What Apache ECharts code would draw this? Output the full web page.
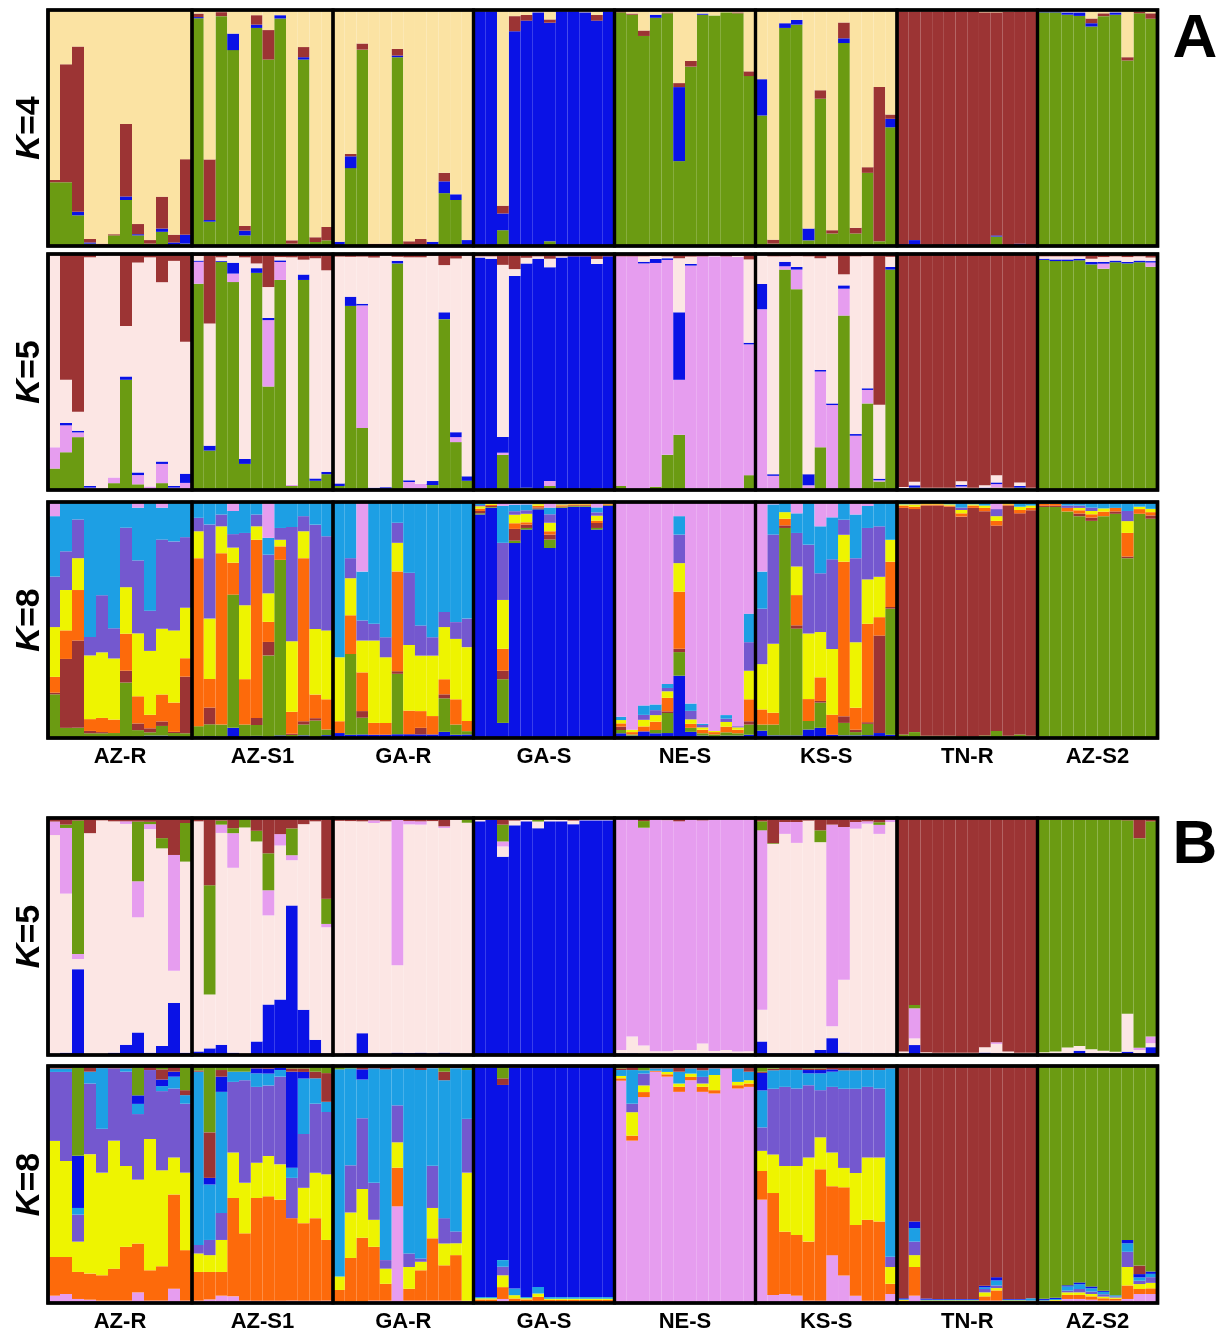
<!DOCTYPE html>
<html><head><meta charset="utf-8">
<script src="https://cdn.jsdelivr.net/npm/echarts@6/dist/echarts.min.js"></script>
<style>html,body{margin:0;padding:0;background:#fff}#chart{width:1225px;height:1335px}</style>
</head><body><div id="chart"></div>
<script>
// Populations: AZ-R, AZ-S1, GA-R, GA-S, NE-S, KS-S, TN-R (12 individuals each), AZ-S2 (10)
const populations = ['AZ-R','AZ-S1','GA-R','GA-S','NE-S','KS-S','TN-R','AZ-S2'];
const popSizes = [12,12,12,12,12,12,12,10];

// ---- Panel A, K=4 (stack order bottom->top: green, blue, brown, tan)
const A4_green = [27,27,13,1,0.5,4.5,19.5,4.5,1,6,0.5,1, 96.5,10.3,97.4,83,4.5,92.4,79,96.4,1,79,1.7,2.4, 0.5,33,83.2,0,0,80,0.5,0,0,22.4,19.5,0.5, 0.5,0,6.7,0,0,0,2,0,0,0,0,0, 99,98,89,96.7,98.6,36,76,98,97.7,99,98.6,72, 55.3,1,92.4,93.8,2.4,62.4,5.3,86,5.3,31,2,50.3, 0.3,0.5,0,0,0,0,0,0,4,0,0,0, 99,99,98,97.5,93,97.4,98,78.6,98.6,96.3];
const A4_blue = [0,0,1.5,0.5,0,0,1.5,0.5,0,1.4,1,3.8, 0.5,0.7,0,7,2,1.4,0,1.4,0,1,0,0, 1.3,5,0,0,0,0.7,0,0,1.8,5,2.4,2, 99,99.5,7.1,91,95.5,99,92.8,99.5,99.5,99,95.5,99.5, 0,0,0,1.3,0,31.4,0,0.5,0,0,0,0, 15.4,0,2,2,5,0,0,2,0,0,0,3.6, 0.5,2,0.5,0,0.7,0,0.7,0,0.5,0,1,0, 0.5,0.5,1,1.5,1.4,0,1,0,0,0];
const A4_brown = [1,50,70,1.5,0.5,0.5,30.7,4.3,1.5,13.5,3.3,32, 1.5,25.7,1.7,0,2,4,12.5,0,1.4,4.3,2,5.7, 0,1,2.6,1,1,2.8,1.5,3,0,3.6,0,0, 0,0,3.3,6.4,2.4,0,1.4,0,0,0,2.4,0, 0.5,0.5,2.3,0,0.4,1.7,2.4,0,0,0,0.4,2, 0,1.7,0,0,0,3.6,1.4,6.7,2.4,2.4,65.4,1.8, 98.7,97,99,99.5,99,99.5,99,99,94.5,99.3,98.5,99.5, 0,0,0,0,2,1.2,0,1.4,0.7,2.3];
const A4_tan = [72,23,15.5,97,99,95,48.3,90.7,97.5,79.1,95.2,63.2, 1.5,63.3,0.9,10,91.5,2.2,8.5,2.2,97.6,15.7,96.3,91.9, 98.2,61,14.2,99,99,16.5,98,97,98.2,69,78.1,97.5, 0.5,0.5,83,2.6,2.1,1,4,0.5,0.5,1,2.1,0.5, 0.5,1.5,8.7,2,1,31,21.6,1.5,2.3,1,1,26, 29.3,97.3,5.6,4.2,92.6,34,93.3,5.3,92.3,66.6,32.6,44.3, 0.5,0.5,0.5,0.5,0.3,0.5,0.3,1,1,0.7,0.5,0.5, 0.5,0.5,1,1,3.6,1.4,1,20,0.7,1.4];

// ---- Panel A, K=5 (green, pink, blue, lightpink, brown)
const A5_green = [9.1,16,22.4,0.5,0.5,2.9,46.7,2.4,0.5,2.9,0.5,0.5, 87.4,16.7,96.7,88.1,11,92,43.9,89,1.7,89,3.9,6.7, 1.7,78,26.3,0.5,0.5,96,0.5,0,2.1,72.4,20.3,3.9, 0.5,0,14.9,0.7,1,0,1.7,0,0,0,0.8,0, 1.7,0,0.5,1.4,14.9,23.4,0.5,0.5,0.5,0.7,0.7,6.3, 0,0,93.4,85.1,0,18.1,0,73.9,0,36.7,3.6,93.4, 0.5,1,0.5,0.5,0.5,1,0.5,0.5,1,0.5,1,0.5, 97.5,97,97,97.3,95.6,93.8,96.5,96,96.5,94.6];
const A5_pink = [9,11.4,2,0.5,0,2.4,0,3.9,1,8.1,0.5,2.5, 9.3,0,0,3.6,0,0,28.1,7.6,0.5,0,0,0, 0,0,51.9,0,0,0,2.9,2.6,0,0,2.1,0, 0,0,0.9,0,0,0,2.1,0,0,0,0,0, 97.3,99,95.5,94.8,82.6,23.3,94.6,98.5,98.5,98.3,98,55.4, 76.6,6,1.4,8.3,2,32.1,36,11.4,23,5.7,0.5,0, 0,0,0,0,0,0.5,0,0,1.5,0,0,0, 0,0,0,0,0,2.1,0,0,0,1.8];
const A5_blue = [0,1,0.7,0.7,0,0,1.4,1.1,0,1,0.7,3.9, 0.5,2.1,0.4,4.6,2.1,2,0.9,0.7,0,2.3,1,1, 1.1,3.9,0.7,0.5,0.7,1.1,0.7,0,1.7,2.9,2.1,1.9, 98.5,98,6.7,90,95,98,90.6,98.5,99,99,95,99, 0,0,0.7,1.7,0.7,28.6,0.7,0,0,0,0,0.7, 10.7,0.7,1.9,1.1,4.7,0.7,0.7,1.4,0.7,0.7,0.7,1.1, 0.3,1,0,0,0,0.7,0,0.5,0.7,0,0.7,0, 0.5,0.7,0.7,0.7,1,0.7,0.7,0.6,0.7,0.6];
const A5_lightpink = [81.4,18.3,8.1,96.9,99,94.7,21.4,88.6,96.1,75.7,95,55.7, 2,51.7,1.5,3.3,85,2,13.1,1.4,96.4,6.3,93.3,85.4, 96.1,16.9,20,97.5,98.3,1.7,94.5,96,95.5,20,73.6,93.5, 0.5,1,72.9,2.9,2.4,1,3.6,0.5,0,0,2.1,0, 0,0,2.3,1.4,0.8,22.9,3.1,0,0.5,0,0.6,35.3, 12.2,92.3,2.3,4.6,92.3,47.3,62.3,4.7,75.3,56,31.3,4.3, 0.5,1.5,0.5,0.5,0.5,1.5,0.5,1,3,0.5,1.5,0.5, 1,1.3,1.3,1,1.4,2.1,1.8,2.1,1.8,1.5];
const A5_brown = [0.5,53.3,66.8,1.4,0.5,0,30.5,3.6,1.4,11.9,2.9,37.1, 0.8,29.5,1.4,0.4,1.4,4,14,1.3,1.4,2.4,1.8,6.9, 1.1,1.2,1.1,1.5,0.5,1.2,1.4,1.4,0.7,4.7,1.9,0.7, 1,1,4.6,6.4,1.6,1,2,1,1,1,2.1,1, 1,1,1,0.7,1,1.8,1.1,1,0.5,1,0.7,2.3, 0.5,1,1,0.9,1,1.8,1,8.6,1,0.9,63.9,1.2, 98.7,96.5,99,99,99,96.3,99,98,93.8,99,96.8,99, 1,1,1,1,2,1.3,1,1.3,1,1.5];

// ---- Panel A, K=8 (blue, green, brown, orange, yellow, purple, lightblue, pink)
const A8_blue = [0,0,0,0.5,0.5,0.6,0,0.5,1,1,0.7,0.5, 0.7,0.8,0.7,4.3,0.7,0.9,0.5,1.1,0.5,1.1,0,1.2, 2.1,1.4,1.5,1.4,1.4,1.6,1.6,1.5,1.5,2.6,1.4,1.5, 94.7,97.5,6.4,82.6,88.3,96.9,80.5,97.5,98,98,88.3,98.3, 2,1,2.8,2,2.1,26.4,2.6,1,0.5,1,1,1.4, 3.1,1.1,1.1,1.1,3.6,4.3,1.4,1.1,1.1,1.2,2.1,1.4, 0.5,0.5,0.5,0.5,0.5,0,0,0,0.5,0.5,0.5,0.5, 0.5,0.5,0,0,0,0,0,0,0,0];
const A8_green = [18.5,4.3,4.3,1.5,1.5,1.5,23.5,2.8,1.4,4.1,1.4,1.5, 4.3,5,5,56.4,5,4.6,34.5,74.4,0.8,4.6,7.4,2.4, 0,34.2,7.1,0,0,25.6,0,0,0,14.2,4.3,1.4, 0.5,0.3,18.5,1,0.7,0.3,3.6,0.3,0.3,0.3,0.7,0.3, 1.4,0.5,0,1.4,8.5,10,1.7,1,1,1.4,1,4.3, 2.6,4.6,87.9,45.2,3.6,10.7,0,5.3,1.4,4.8,0,53.4, 1,2,0.5,0.5,0.5,0.8,0.5,1.1,2.5,0.5,1,0.5, 97.4,97.4,96,94,92,94,95,76.2,95,92.9];
const A8_brown = [0.7,29.2,37,1,0.5,0,5,2.8,1.7,1.9,0.5,24, 0,7.1,0,0,0,3,5.7,0,0.5,1.4,1,0, 0,0,2.8,0,0,1.1,0,2.8,0,1.7,0,0, 1,0.5,3.6,5,1.4,0.5,2.1,0.3,0.3,0.3,2.1,0.2, 1.4,0,0,0,0.7,1.4,0,0,0,0,0,1.4, 0,0,1.1,1.4,0,0.7,0,2.8,1,0.7,41.3,0.7, 96,94.5,98,98,97.5,93,97,95,87,98,93.7,95.5, 0.5,0.5,0,1.1,1.4,0,1,0.7,0,1.4];
const A8_orange = [6.7,12.1,21.4,5,6,5.7,15.7,11.4,5.7,11.4,12.4,7.8, 71.2,12.1,72.6,13.5,19.2,75.5,8.5,5.7,9.3,69.1,10,12.8, 5,16.4,16.4,5,5,42.3,10,7.1,7.8,6.4,10.7,4.3, 1,0.5,9.3,2.4,1,0.7,1.4,0.5,0.4,0.4,1,0.3, 1.4,1,2.1,3.5,5.7,24.2,1.7,1.5,1,2.4,1.5,9.3, 6.4,5,2.8,12.8,9.3,10,8.5,65.5,9.3,41.7,7.8,19.2, 1,1,0.5,0.5,0.5,1.4,1,1.4,2,0.5,1.4,1, 0.8,0.8,1.5,1.4,1.4,1.9,1.5,10,2,1.4];
const A8_yellow = [21.1,17.1,13.5,27,27.8,25.9,19.7,26.4,27,27.8,30.6,21.4, 11.4,25.6,11.4,6.4,31.3,5.7,12.1,2.8,29.9,11.4,27.8,29.2, 27.1,15.7,13.5,34.9,27.8,12.1,27.8,23.5,25.6,22.1,25.6,31.3, 1,0.5,20.7,3.6,3.6,0.7,3.6,0.4,0.3,0.3,2.1,0.3, 1.4,1,2.8,2.8,2.8,12.1,1.9,1,0.5,2,1,12.1, 19.2,29.2,2.8,12.1,27.8,19.2,27.8,11.4,27.8,18.8,17.1,9.3, 0.5,1,0.5,0.5,0.5,1.4,0.5,1,2,0.5,1.4,1, 0,0,0,1,1.4,1.4,0,5,1,1.4];
const A8_purple = [21.4,16.4,16.4,7.8,24.2,12.8,25.2,30.6,17,37.7,37.7,29.9, 5.7,39.9,5,5.7,30.6,5,16.4,5,48.4,6.4,44.2,39.9, 0,8.5,8.5,7.1,8.5,8.5,30.6,12.8,7.8,6.4,7.1,12.1, 0.5,0.2,24.2,1.5,1.5,0.3,3.6,0.3,0.2,0.2,1.4,0.2, 0,0,2.1,2.1,1.4,12.1,3.6,1,0,1.4,0.5,12.1, 23.5,46.3,0,14.2,37.7,24.9,38,6.4,35.6,21.8,21.4,0, 0,0.5,0,0,0,1,0,0,3,0,0,0, 0,0,1,1,1.4,0,0,4.3,0,0];
const A8_lightblue = [25.6,20.9,7.4,57.2,39.5,53.5,10.9,22.1,45.9,13.5,16.7,14.9, 6.7,9.5,5.3,9.8,13.1,5.3,7.1,11,10.6,6,9.6,14.5, 65.8,23.8,20.7,51.6,57.3,8.8,30,52.3,57.3,46.6,50.9,49.4, 0.8,0.3,15.7,2.8,2.5,0.3,2.8,0.4,0.3,0.3,2.1,0.2, 1.4,0,4,2.4,1.7,7.8,3.1,0.5,0,1.5,0,12.1, 15.7,12.8,4.3,8.3,18.1,19.9,17.8,7.1,18.5,9.3,10.3,16, 1,0.5,0.5,0.5,1,2.4,1,1.5,0,0.5,2,1.5, 0.8,0.8,1.5,1.5,2.4,2.7,2.5,3.8,2,2.9];
const A8_pink = [6,0,0,0,0,0,0,2.4,0,2.4,0,0, 0,0,0,3.8,0,0,15.2,0,0,0,0,0, 0,0,29.5,0,0,0,0,0,0,0,0,0, 0.5,0.2,1.6,1.1,1,0.3,2.4,0.3,0.2,0.2,2.3,0.2, 91,96.5,86.2,85.8,77.1,6,85.4,94,97,90.3,95,47.3, 29.5,1,0,4.8,0,10.3,6.5,0.4,5.3,1.7,0,0, 0,0,0,0,0,0,0,0,3,0,0,0, 0,0,0,0,0,0,0,0,0,0];

// ---- Panel B, K=5 (blue, lightpink, pink, green, brown)
const B5_blue = [0.5,1,36.2,0.5,0.5,1,4.3,9.5,1,3.8,22,1, 1.5,2.8,4.3,1,0.5,5.7,21.3,23.4,63.1,19.1,6.4,0.7, 0.5,0.7,9.2,0.5,0.5,1,0.8,1,0.7,1,0.5,0.5, 98.6,99.3,83.7,96.9,98.6,95.7,98.6,98.6,97.4,99,99,99, 0.7,0.7,0.5,0.5,0.5,0.7,0.7,0.7,0.7,0.7,0.5,0.5, 5.7,0.7,0.7,0.7,0.7,2.1,7.1,1,0.7,0.7,0.7,0.7, 0.5,4.2,0.5,0.5,0.5,0.5,0.5,1,0.7,0.5,0.5,0.5, 0.5,0.5,0.7,1.8,0.7,0.7,0.7,1.4,0.7,3.3];
const B5_lightpink = [92.3,67.1,4.3,93.1,98.6,97.6,93.2,48.6,94.3,83.4,13.5,80.6, 97.5,22.7,89.4,78,95.5,84.4,37.6,65,19.1,78.3,92.2,53.2, 98.3,98,89.4,97.4,98.1,36.9,96.5,96.2,98,94.8,98.8,97.5, 0.7,0,4.3,2,0.7,2.8,1,0.7,1.5,0.5,0.5,0.5, 1.4,7.1,3.5,1.1,1.1,1.4,1.4,4.2,1,1.4,1,1.1, 13.4,88.4,92.6,88.8,98.2,87.7,5,30.8,94.8,96.9,92.6,97.6, 1,2.8,0.7,0.5,0.5,0.5,0.5,2.3,4,1,0.5,0.5, 0.7,1,2.5,2,1.7,1.1,0.7,16,1.4,1.7];
const B5_pink = [5.7,27.7,2.1,0,0,0,1.1,15.2,2.1,0,48.9,0, 0,0,3.5,14.6,0,0,10.6,4.8,2.1,0,0,1.4, 0,0,0,1.1,0,61.3,1.4,1.4,0,0.7,0,0, 0,0,2.1,0,0,0,0,0,0,0,0,0, 97.9,92.2,91.9,97.7,97.5,96.5,97.2,94.1,97.6,97.2,97.8,97.7, 75.7,0,5,8.8,0,0,85.1,64.4,2.8,1,3.8,1, 0,12.7,0,0,0,0,0,0,0.7,0,0,0, 0,0,0,0,0,0,0,0,1,2.8];
const B5_green = [0,1.4,56.3,0,0,0,0,25.2,1,4.3,0,16.3, 0,46.1,1.7,2.1,4,4.5,15.6,0,11.3,0,0,10.6, 0,0,0,0,0,0,0,0,0,0,0,1.4, 0,0,7.1,0,0,0.7,0,0,0,0,0,0, 0,0,2.8,0,0,0,0,0,0,0,0,0, 3.8,0.3,0,0,0,5,0,0,0,0,1.1,0, 0,1.4,0,0,0,0,0,0,0,0,0,0, 98.1,97.8,96.1,95.5,96.9,97.5,97.9,81.6,88.4,90.8];
const B5_brown = [1.5,2.8,1.1,6.4,1,1.4,1.4,1.5,1.6,8.5,15.6,2.1, 1.4,28.4,1.1,4.3,0,5.4,14.9,6.8,4.4,2.6,1.4,34.1, 1.2,1.3,1.4,1,1.4,0.8,1.3,1.4,1.3,3.5,0.7,0.6, 0.7,0.7,2.8,1.1,0.7,0.8,0.4,0.7,1.1,0.5,0.5,0.5, 0.5,0.5,1.3,0.7,0.9,1.4,0.7,1,0.7,0.7,0.7,0.7, 1.4,10.6,1.7,1.7,1.1,5.2,2.8,3.8,1.7,1.4,1.8,0.7, 98.5,78.9,98.8,99,99,99,99,96.7,94.6,98.5,99,99, 0.7,0.7,0.7,0.7,0.7,0.7,0.7,1,8.5,1.4];

// ---- Panel B, K=8 (pink, orange, yellow, purple, lightblue, blue, brown, green)
const B8_pink = [3.1,3.8,1.7,1.4,1,1,1,4.5,1,1,6,1, 1,1.5,3.1,2.8,1,1,1,1,1,1,1,1, 0.5,0.5,0.5,1,1,40.8,1,1,1,1,1,1, 0.5,0.5,1.7,0.5,0.5,0.5,0.5,0.5,0.5,0.5,0.5,0.5, 93.8,68.5,86.9,97.6,95.5,89.1,94,89.1,88.4,99,90.5,91.2, 43.6,3.4,3.8,3.1,1,1,20.2,11.6,3.1,1,1,3.8, 0.5,3.1,0.3,0.3,0.3,0.3,0.3,1,1,0.3,0.3,0.5, 0.5,0.5,1.7,1.7,1.4,1,1,1.7,3.8,3.8];
const B8_orange = [16.3,15.6,11.4,11,10.7,13.5,22.7,20.6,12.8,14.5,39.8,21.3, 12.1,11.6,10,41.5,28.4,43.3,44,42.6,34.8,32.7,34.8,25.6, 5,18.5,27,22.7,7.1,16.3,5,12.8,26.3,14.9,19.2,0, 1,1,5,1.4,1,2.1,0.8,0.8,0.8,0.8,0.8,0.8, 1,2.1,2.1,0.4,1,2.1,1.4,2.1,1.4,0,1.4,1.4, 12.1,43,26.3,25.6,24.9,55.4,29.1,37.2,29.8,34.1,33.4,4.3, 0.5,12.1,0.5,0.5,0.5,0.5,0.5,1.8,4.3,0.5,0.5,0.5, 0.5,0.5,1.7,1.7,1.4,1,0.8,5.7,2.1,2.4];
const B8_yellow = [49,40.5,12.8,50.4,43.3,54,34.1,27,55.4,40.5,15.6,32.7, 7.8,7.1,13.5,19.2,21.3,14.9,17,14.9,0,14.9,19.2,27.7, 5.7,19.2,20.6,11.4,6.4,10.7,9.2,3.6,12.8,9.2,5,54, 0.5,0.5,5,1.4,0.5,1.4,0.5,0.5,0.5,0.5,0.5,0.5, 1,9.9,2.8,0,1,1.4,1.4,1.4,6.4,0,1.4,1.4, 8.5,16.3,27.7,29.1,35.5,13.5,14.2,8.2,22,26.3,27,7.1, 0.3,5,0.3,0.3,0.3,0.3,0.3,1.7,1,0.3,0.3,0, 0,0.3,1.1,1.1,1,0.7,0.5,7.8,2.1,2.3];
const B8_purple = [29.1,37.6,11.4,29.8,18.5,30.5,39.8,27.7,29.1,33.4,29.1,29.1, 3.6,6.4,11.4,29.8,43.3,32,29.8,37,17,22.7,29.1,26.3, 0,19.9,29.8,15.6,3.6,15.6,5.7,1.4,17.8,10.7,5,22.7, 0,0,3.6,0,0,0,0,0,0,0,0,0, 0,3.6,5,0,0,0,0,2.8,0,0,0,0, 9.9,27.7,33.4,32.7,30.5,19.9,27.7,33.4,35.5,29.8,29.1,4.3, 0,5.7,0,0,0,0,0,1.4,1.1,0,0,0, 0,0,0.7,1.4,1,1,0.5,6.4,1.4,2.4];
const B8_lightblue = [1.4,1.4,2.8,5,25.6,0,1.4,4.3,0,2.1,5,3.6, 73.1,23.4,51.1,4.3,3.6,5.7,5,2.8,4.3,23.4,10.7,4.3, 87.4,40.9,16.3,48.3,80.5,15.6,78.1,79.5,41.2,58.2,68.9,20.6, 0.5,0.5,2.8,2.8,0.5,2.8,0.7,0.7,0.7,0.7,0.7,0.7, 2.5,14.2,1.4,1,1.5,5,2.2,2.8,2.8,0,5.7,3.6, 15.6,7.8,7.1,7.8,5,7.1,6.4,7.8,7.8,7.1,7.8,79.5, 0.3,5.7,0.3,0.3,0.3,0.3,0.3,0.7,2.1,0.3,0.3,1, 0.3,0.4,1.8,2,1.4,1,0.5,3.6,1.4,1.4];
const B8_blue = [0,0,22,0,0,0,0,3.6,0,2.8,2.1,0, 0,2.8,6.4,0,0,2.1,2.1,1,40.5,2.8,0,0, 0,0,4.3,0,0,0,0,0,0,0,0,0, 97,97,73.9,93.2,97.5,93,97.5,97.5,97.5,97.5,97.5,97.5, 0,0,0,0,0,0,0,0,0,0,0,0, 7.4,0,0,0,1.4,1.4,1,0,0,0,0,0, 0.4,2.8,0.5,0.3,0.3,0.3,0.3,0.7,1.4,0.3,0.3,0, 0.5,0.5,0.5,0.8,0.8,0.5,0,1.4,1.4,1];
const B8_brown = [0.5,1.1,0,2.4,0.9,1,1,0,1.7,4.3,2.4,2.1, 0.5,19.2,2.8,0,0,1,1.1,0.7,1.4,1.5,2.8,12.1, 0,0,1.4,1,1.4,1,1,1.7,0.9,3.6,0.9,0, 0.5,0.5,2.8,0.7,0,0.2,0,0,0,0,0,0, 0.7,1.7,0,1,1,2.4,1,1.8,1,1,1,2.4, 0.5,0.7,1,1,0.7,0.7,1.4,1,1,1.7,1.7,1, 98,65.6,98.1,98.3,98.3,98.3,98.3,92.7,89.1,98.3,98.3,98, 0,0,0,0,0,0,0,0,3.6,0];
const B8_green = [0.6,0,37.9,0,0,0,0,12.4,0,1.4,0,10.2, 1.9,28,1.7,2.4,2.4,0,0,0,1,1,2.4,3, 1.4,1,0,0,0,0,0,0,0,2.4,0,1.7, 0,0,5.2,0,0,0,0,0,0,0,0,0, 1,0,1.8,0,0,0,0,0,0,0,0,0, 2.4,1.1,0.7,0.7,1,1,0,0.8,0.8,0,0,0, 0,0,0,0,0,0,0,0,0,0,0,0, 98.2,97.8,92.5,91.3,93,94.8,96.7,73.4,84.2,86.7];

const colors = {
  tan:'#fbe3a3', green:'#6b9b12', blue:'#0a12e6', brown:'#9c3434',
  pink:'#e69def', lightpink:'#fce6e4', lightblue:'#1d9fe4', purple:'#7458cf',
  yellow:'#eef400', orange:'#fd6a0b'
};

const panels = [
  {k:'4', top:10,   height:236, pop:false, order:[['green',A4_green],['blue',A4_blue],['brown',A4_brown],['tan',A4_tan]]},
  {k:'5', top:254,  height:236, pop:false, order:[['green',A5_green],['pink',A5_pink],['blue',A5_blue],['lightpink',A5_lightpink],['brown',A5_brown]]},
  {k:'8', top:502,  height:236, pop:true,  order:[['blue',A8_blue],['green',A8_green],['brown',A8_brown],['orange',A8_orange],['yellow',A8_yellow],['purple',A8_purple],['lightblue',A8_lightblue],['pink',A8_pink]]},
  {k:'5', top:818,  height:237, pop:false, order:[['blue',B5_blue],['lightpink',B5_lightpink],['pink',B5_pink],['green',B5_green],['brown',B5_brown]]},
  {k:'8', top:1066, height:237, pop:true,  order:[['pink',B8_pink],['orange',B8_orange],['yellow',B8_yellow],['purple',B8_purple],['lightblue',B8_lightblue],['blue',B8_blue],['brown',B8_brown],['green',B8_green]]}
];

const FONT = '"Liberation Sans", Arial, Helvetica, sans-serif';
// layout: x positions of the population box edges
const popEdges = [48, 192, 333, 473.5, 614.5, 755.5, 897, 1037.5, 1157.5];
const nInd = popSizes.reduce((a,b)=>a+b,0);

const grids=[], xAxes=[], yAxes=[], series=[], graphics=[];
panels.forEach(p => {
  const totals = new Array(nInd).fill(0);
  p.order.forEach(([c, arr]) => arr.forEach((v,i) => { totals[i] += v; }));
  let start = 0;
  popSizes.forEach((n, k) => {
    const gi = grids.length;
    const left = popEdges[k];
    const width = popEdges[k+1] - popEdges[k];
    grids.push({left: left, top: p.top, width: width, height: p.height});
    xAxes.push({
      type:'category', gridIndex: gi,
      data: Array.from({length:n}, (_, j) => populations[k] + ' #' + (j+1)),
      axisLine:{show:false}, axisTick:{show:false}, axisLabel:{show:false}, splitLine:{show:false},
      name: p.pop ? populations[k] : '', nameLocation:'middle', nameGap: 8,
      nameTextStyle:{fontFamily: FONT, fontWeight:'bold', fontSize: 22, color:'#000', verticalAlign:'top'}
    });
    yAxes.push({type:'value', gridIndex: gi, min:0, max:100, show:false});
    p.order.forEach(([c, arr]) => {
      series.push({
        type:'bar', name: c, xAxisIndex: gi, yAxisIndex: gi, stack: 'st' + gi,
        barCategoryGap: '0%', barGap: '0%', silent: true,
        itemStyle: {color: colors[c]},
        data: arr.slice(start, start + n).map((v, j) => v / totals[start + j] * 100)
      });
    });
    graphics.push({type:'rect', z:100, shape:{x:left, y:p.top, width:width, height:p.height},
      style:{fill:'none', stroke:'#000', lineWidth:3.2}});
    start += n;
  });
  graphics.push({type:'rect', z:101, shape:{x:popEdges[0], y:p.top, width:popEdges[8]-popEdges[0], height:p.height},
    style:{fill:'none', stroke:'#000', lineWidth:3.6}});
  graphics.push({
    type:'text', z:100, x: 30, y: p.top + p.height/2, rotation: Math.PI/2,
    style:{
      text: '{i|K}{n|=' + p.k + '}',
      rich:{
        i:{fontStyle:'italic', fontWeight:'bold', fontSize:34, fontFamily:FONT, fill:'#000', color:'#000'},
        n:{fontWeight:'bold', fontSize:34, fontFamily:FONT, fill:'#000', color:'#000'}
      },
      align:'center', verticalAlign:'middle', textAlign:'center', textVerticalAlign:'middle'
    }
  });
});
graphics.push({type:'text', z:100, x:1195, y:40, style:{text:'A', fontSize:62, fontWeight:'bold', fontFamily:FONT, fill:'#000', align:'center', verticalAlign:'middle', textAlign:'center', textVerticalAlign:'middle'}});
graphics.push({type:'text', z:100, x:1195, y:846, style:{text:'B', fontSize:62, fontWeight:'bold', fontFamily:FONT, fill:'#000', align:'center', verticalAlign:'middle', textAlign:'center', textVerticalAlign:'middle'}});

const chart = echarts.init(document.getElementById('chart'), null, {renderer:'canvas'});
chart.setOption({
  backgroundColor:'#ffffff',
  animation:false,
  grid: grids, xAxis: xAxes, yAxis: yAxes, series: series,
  graphic: {elements: graphics}
});
</script>
</body></html>
